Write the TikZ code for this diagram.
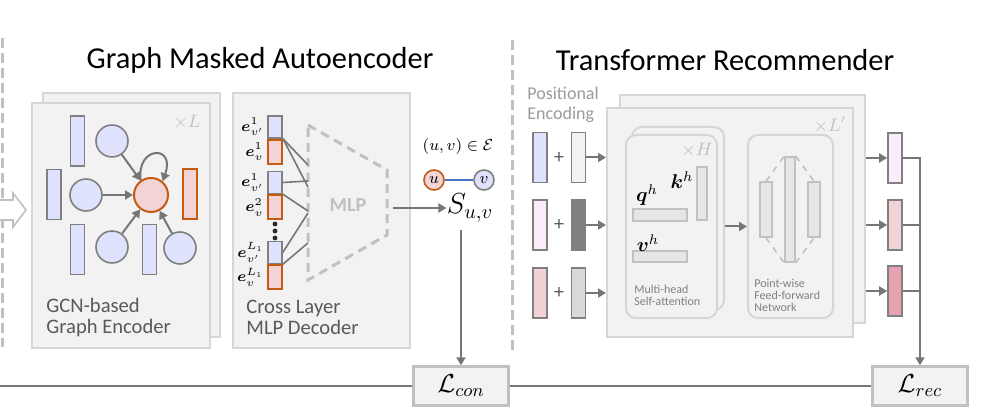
\documentclass[tikz,border=0pt]{standalone}
\usepackage{fix-cm}
\usepackage{fontspec}
\setmainfont{Carlito}
\usepackage{bm}
\usetikzlibrary{positioning,arrows.meta}

\definecolor{panelfill}{RGB}{242,242,242}
\definecolor{panelline}{RGB}{214,214,214}
\definecolor{vecline}{RGB}{128,128,128}
\definecolor{arrgray}{RGB}{118,118,118}
\definecolor{txtgray}{RGB}{89,89,89}
\definecolor{faint}{RGB}{192,192,192}
\definecolor{blueA}{RGB}{222,226,252}
\definecolor{redA}{RGB}{242,212,214}
\definecolor{orangeB}{RGB}{197,90,17}
\definecolor{pinkA}{RGB}{253,236,250}
\definecolor{roseA}{RGB}{240,210,215}
\definecolor{roseB}{RGB}{232,163,178}
\definecolor{edgeblue}{RGB}{68,114,196}

\tikzset{
  panel/.style={draw=panelline, fill=panelfill, line width=1pt, inner sep=0pt},
  roundpanel/.style={panel, rounded corners=5pt},
  vecbox/.style={draw=vecline, line width=0.8pt, inner sep=0pt, minimum width=7pt, minimum height=25pt},
  redbox/.style={vecbox, draw=orangeB, fill=redA, line width=1pt},
  decblue/.style={vecbox, fill=blueA, minimum height=11pt},
  decred/.style={redbox, minimum height=12pt},
  attvec/.style={draw=panelline!90!black, fill=panelfill!95!black, line width=0.8pt, inner sep=0pt},
  gnode/.style={circle, draw=vecline, fill=blueA, line width=0.8pt, inner sep=0pt, minimum size=16pt},
  garrow/.style={draw=arrgray, line width=1pt, -{Triangle[length=4pt,width=4.5pt]}},
  gline/.style={draw=arrgray, line width=0.8pt},
  sepline/.style={draw=faint, line width=1.5pt, dash pattern=on 5pt off 2.5pt},
  lossbox/.style={draw=faint, fill=panelfill, line width=1.2pt, minimum width=47.5pt, minimum height=19.5pt, inner sep=0pt},
  caption/.style={align=left, anchor=west, inner sep=0pt, text=txtgray, font=\fontsize{10.3}{10.6}\selectfont},
  tiny/.style={align=left, anchor=west, inner sep=0pt, text=vecline, font=\fontsize{6}{6}\selectfont},
  elabel/.style={inner sep=0pt, font=\fontsize{10}{10}\selectfont},
  declabel/.style={inner sep=0pt, font=\fontsize{7.5}{7.5}\selectfont},
  faintlabel/.style={inner sep=0pt, text=faint, font=\fontsize{9}{9}\selectfont}
}

\begin{document}
\begin{tikzpicture}[x=0.5pt,y=-0.5pt]
  \useasboundingbox (0,0) rectangle (982,415);

  % separators and titles
  \draw[sepline] (2,38) -- (2,347);
  \draw[sepline] (512,40) -- (512,350);
  \node (gmaTitle) at (260,60) {\fontsize{15.2}{16}\selectfont Graph Masked Autoencoder};
  \node (trTitle) at (725,60) {\fontsize{15.2}{16}\selectfont Transformer Recommender};

  % input arrow
  \path[fill=white, draw=faint, line width=0.8pt] (0,200) -- (13,200) -- (13,193) -- (26,210) -- (13,227) -- (13,220) -- (0,220);

  % GCN-based graph encoder
  \node[panel, minimum width=88.5pt, minimum height=122pt] (encBack) at (131.5,215) {};
  \node[panel, minimum width=89pt, minimum height=122.5pt] (encFront) at (121,225.5) {};
  \node[faintlabel] (encTimes) at (187,122) {$\times L$};
  \node[vecbox, fill=blueA] (er1) at (77.5,141) {};
  \node[vecbox, fill=blueA] (er2) at (54,194.5) {};
  \node[vecbox, fill=blueA] (er3) at (77.5,249.5) {};
  \node[vecbox, fill=blueA] (er4) at (149.5,249.5) {};
  \node[redbox] (er5) at (190,194.5) {};
  \node[gnode] (ec1) at (112,141) {};
  \node[gnode] (ec2) at (86,195) {};
  \node[gnode] (ec3) at (112,247) {};
  \node[gnode] (ec4) at (180,248) {};
  \node[gnode, draw=orangeB, fill=redA, line width=1pt, minimum size=17pt] (ectr) at (151,195) {};
  \draw[garrow] (ec1) -- (ectr);
  \draw[garrow] (ec2) -- (ectr);
  \draw[garrow] (ec3) -- (ectr);
  \draw[garrow] (ec4) -- (ectr);
  \draw[garrow] (ectr.125) .. controls (136,146) and (176,144) .. (ectr.50);
  \node[caption] (encText) at (46,317.5) {GCN-based\\Graph Encoder};

  % cross layer MLP decoder
  \node[panel, minimum width=88.5pt, minimum height=127.5pt] (decPanel) at (321.5,220.5) {};
  \node[decblue] (db1) at (275,127) {};
  \node[decred, below=0pt of db1] (dr1) {};
  \node[decblue] (db2) at (275,182.5) {};
  \node[decred, below=0pt of db2] (dr2) {};
  \node[decblue] (db3) at (275,252.5) {};
  \node[decred, below=0pt of db3] (dr3) {};
  \foreach \y in {224,231,238}
    \fill[black!85] (275,\y) circle (1.2pt);
  \node[declabel, left=1.5pt of db1] (lb1) {$\bm{e}^{1}_{v'}$};
  \node[declabel, left=1.5pt of dr1] (lr1) {$\bm{e}^{1}_{v}$};
  \node[declabel, left=1.5pt of db2] (lb2) {$\bm{e}^{1}_{v'}$};
  \node[declabel, left=1.5pt of dr2] (lr2) {$\bm{e}^{2}_{v}$};
  \node[declabel, left=1.5pt of db3] (lb3) {$\bm{e}^{L_1}_{v'}$};
  \node[declabel, left=1.5pt of dr3] (lr3) {$\bm{e}^{L_1}_{v}$};
  \draw[draw=faint, line width=1.5pt, dash pattern=on 4.5pt off 3pt] (308,125) -- (387,170) -- (387,235) -- (308,280) -- cycle;
  \node[text=faint, font=\bfseries\fontsize{10}{10}\selectfont] (mlp) at (348,205) {MLP};
  \coordinate (m1) at (308,165);
  \coordinate (m2) at (308,187);
  \coordinate (m3) at (308,181);
  \coordinate (m4) at (308,211);
  \coordinate (m5) at (308,213);
  \coordinate (m6) at (308,243);
  \draw[gline] (dr1.north east) -- (m1);
  \draw[gline] (dr1.north east) -- (m2);
  \draw[gline] (db2.east) -- (m3);
  \draw[gline] (dr2.north east) -- (m4);
  \draw[gline] (db3.east) -- (m5);
  \draw[gline] (db3.south east) -- (m6);
  \node[caption] (decText) at (246,317.5) {Cross Layer\\MLP Decoder};

  % similarity of the edge (u,v)
  \coordinate (mlpOut) at (393,208);
  \node[inner sep=0pt, font=\fontsize{14.5}{15}\selectfont] (suv) at (470,208) {$S_{u,v}$};
  \draw[garrow] (mlpOut) -- (suv.west);
  \node[inner sep=0pt, font=\fontsize{8}{8}\selectfont] (edgeSet) at (458,147) {$(u,v)\in\mathcal{E}$};
  \node[gnode, draw=orangeB, fill=redA, minimum size=10pt, font=\fontsize{8}{8}\selectfont] (un) at (434,180) {$u$};
  \node[gnode, minimum size=10pt, font=\fontsize{8}{8}\selectfont] (vn) at (484,180) {$v$};
  \draw[edgeblue, line width=0.8pt] (un) -- (vn);

  % losses
  \node[lossbox, font=\fontsize{13}{13}\selectfont] (lcon) at (461,386) {$\mathcal{L}_{con}$};
  \node[lossbox, font=\fontsize{13}{13}\selectfont] (lrec) at (920,386) {$\mathcal{L}_{rec}$};
  \draw[garrow] ([yshift=-4pt]lcon.north |- suv.south) -- (lcon.north);
  \coordinate (lossStart) at (0,386);
  \draw[draw=arrgray, line width=1.4pt] (lossStart) -- (lcon.west);
  \draw[draw=arrgray, line width=1.4pt] (lcon.east) -- (lrec.west);

  % transformer recommender
  \node[text=vecline!80!white, align=left, anchor=west, inner sep=0pt, font=\fontsize{9}{10}\selectfont] (posText) at (527,105) {Positional\\Encoding};
  \node[panel, minimum width=122.5pt, minimum height=114pt] (tfBack) at (742.5,209) {};
  \node[panel, minimum width=123pt, minimum height=114.5pt] (tfFront) at (730,222.5) {};
  \node[faintlabel] (tfTimes) at (830,125) {$\times L'$};

  \node[roundpanel, minimum width=46pt, minimum height=91.5pt] (mhaBack) at (678,218.5) {};
  \node[roundpanel, minimum width=45.5pt, minimum height=91.5pt] (mha) at (671.5,226.5) {};
  \node[faintlabel] (mhaTimes) at (697,150) {$\times H$};
  \node[attvec, minimum width=5pt, minimum height=26.5pt] (kvec) at (702,193.5) {};
  \node[attvec, minimum width=27pt, minimum height=6pt] (qvec) at (660,215) {};
  \node[attvec, minimum width=27pt, minimum height=5.5pt] (vvec) at (660,256.5) {};
  \node[elabel] (qlab) at (647,195) {$\bm{q}^{h}$};
  \node[elabel] (klab) at (682,180) {$\bm{k}^{h}$};
  \node[elabel] (vlab) at (648,243) {$\bm{v}^{h}$};
  \node[tiny] (mhaText) at (634,295.5) {Multi-head\\Self-attention};

  \node[roundpanel, minimum width=42.5pt, minimum height=91.5pt] (ffn) at (790.5,226.5) {};
  \draw[garrow] (mhaBack.east |- ffn.west) -- (ffn.west);
  \node[attvec, minimum width=5pt, minimum height=52.5pt] (ffMid) at (790,209.5) {};
  \node[attvec, minimum width=6pt, minimum height=27.5pt] (ffLeft) at (766,209.5) {};
  \node[attvec, minimum width=6pt, minimum height=27.5pt] (ffRight) at (814,209.5) {};
  \draw[draw=panelline!90!black, line width=0.8pt, dashed] (ffLeft.north) -- (ffMid.north west);
  \draw[draw=panelline!90!black, line width=0.8pt, dashed] (ffMid.north east) -- (ffRight.north);
  \draw[draw=panelline!90!black, line width=0.8pt, dashed] (ffLeft.south) -- (ffMid.south west);
  \draw[draw=panelline!90!black, line width=0.8pt, dashed] (ffMid.south east) -- (ffRight.south);
  \node[tiny] (ffnText) at (754,295.5) {Point-wise\\Feed-forward\\Network};

  % item embeddings plus positional encodings
  \node[vecbox, fill=blueA] (in1) at (540,157.5) {};
  \node[vecbox, fill=pinkA] (in2) at (540,225) {};
  \node[vecbox, fill=roseA] (in3) at (540,293) {};
  \node[vecbox, fill=panelfill] (pe1) at (578.5,157.5) {};
  \node[vecbox, fill=black!50] (pe2) at (578.5,225) {};
  \node[vecbox, fill=black!15] (pe3) at (578.5,293) {};
  \node[text=txtgray, font=\fontsize{10}{10}\selectfont] (plus1) at (559,158) {+};
  \node[text=txtgray, font=\fontsize{10}{10}\selectfont] (plus2) at (559,225) {+};
  \node[text=txtgray, font=\fontsize{10}{10}\selectfont] (plus3) at (559,293) {+};
  \draw[garrow] (pe1.east) -- (pe1.east -| tfFront.west);
  \draw[garrow] (pe2.east) -- (pe2.east -| tfFront.west);
  \draw[garrow] (pe3.east) -- (pe3.east -| tfFront.west);

  % outputs
  \node[vecbox, fill=pinkA] (out1) at (895,158) {};
  \node[vecbox, fill=roseA] (out2) at (895,225) {};
  \node[vecbox, fill=roseB] (out3) at (895,291) {};
  \draw[garrow] (tfBack.east |- out1.west) -- (out1.west);
  \draw[garrow] (tfBack.east |- out2.west) -- (out2.west);
  \draw[garrow] (tfBack.east |- out3.west) -- (out3.west);
  \coordinate (join) at (920,158);
  \draw[garrow] (out1.east) -- (join) -- (lrec.north);
  \draw[gline, line width=1pt] (out2.east) -- (out2.east -| join);
  \draw[gline, line width=1pt] (out3.east) -- (out3.east -| join);
\end{tikzpicture}
\end{document}
